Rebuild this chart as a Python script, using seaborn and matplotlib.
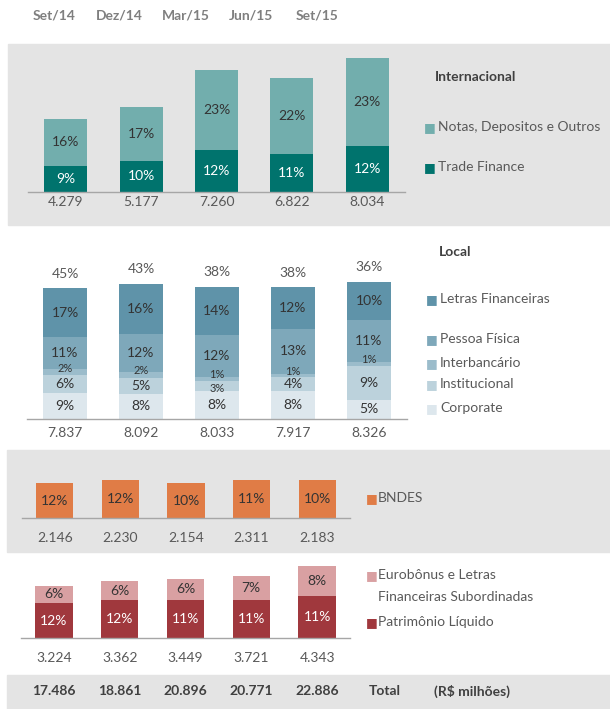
import matplotlib
matplotlib.use("Agg")
import matplotlib.pyplot as plt
import matplotlib.transforms as mtransforms
from matplotlib.patches import Rectangle
import seaborn as sns

# funding by period, R$ milhões
periods = ["Set/14", "Dez/14", "Mar/15", "Jun/15", "Set/15"]
total_funding = [17486, 18861, 20896, 20771, 22886]

intl_total = [4279, 5177, 7260, 6822, 8034]
trade_pct = [9, 10, 12, 11, 12]
notas_pct = [16, 17, 23, 22, 23]

local_total = [7837, 8092, 8033, 7917, 8326]
local_pct = [45, 43, 38, 38, 36]
corp_pct = [9, 8, 8, 8, 5]
instit_pct = [6, 5, 3, 4, 9]
interb_pct = [2, 2, 1, 1, 1]
pf_pct = [11, 12, 12, 13, 11]
letras_pct = [17, 16, 14, 12, 10]

bndes_total = [2146, 2230, 2154, 2311, 2183]
bndes_pct = [12, 12, 10, 11, 10]

sub_total = [3224, 3362, 3449, 3721, 4343]
pl_pct = [12, 12, 11, 11, 11]
euro_pct = [6, 6, 6, 7, 8]

W, H = 610, 709
SCALE = 60  # R$ milhões per pixel, same in every panel
PANEL_GREY = "#e4e4e4"
TXT = "#595959"
DARK = "#333333"

sns.set_style("white")
plt.rcParams["font.family"] = ["Lato", "DejaVu Sans"]

fig = plt.figure(figsize=(W / 100, H / 100), dpi=100)


def px_axes(left, top, right, bottom):
    return fig.add_axes([left / W, 1 - bottom / H, (right - left) / W, (bottom - top) / H])


def fig_rect(left, top, right, bottom, color):
    fig.patches.append(Rectangle((left / W, 1 - bottom / H), (right - left) / W, (bottom - top) / H,
                                 transform=fig.transFigure, color=color, zorder=-5))


def fig_txt(x, y, s, **kw):
    kw.setdefault("color", TXT)
    kw.setdefault("fontsize", 10)
    kw.setdefault("va", "center")
    fig.text(x / W, 1 - y / H, s, **kw)


def fmt(v):
    return f"{v:,}".replace(",", ".")


def stacked(ax, pcts, colors, txt_colors, totals, pad):
    segs = [[p / 100 * t for p, t in zip(pc, total_funding)] for pc in pcts]
    cums, run = [], [0] * len(periods)
    for s in segs:
        run = [a + b for a, b in zip(run, s)]
        cums.append(run)
    for k in reversed(range(len(segs))):
        sns.barplot(x=periods, y=cums[k], color=colors[k], saturation=1,
                    width=0.57, linewidth=0, ax=ax)
    for k, pc in enumerate(pcts):
        for i, p in enumerate(pc):
            mid = cums[k][i] - segs[k][i] / 2
            hpx = segs[k][i] / SCALE
            # thin slices: smaller text, nudged apart so labels don't pile up
            if hpx < 7:
                size, dy = 8, 3
            elif hpx < 12:
                size, dy = 8, -2
            else:
                size, dy = 10, 0
            ax.annotate(f"{p}%", (i, mid), xytext=(0, dy), textcoords="offset points",
                        ha="center", va="center", fontsize=size, color=txt_colors[k])
    pos = ax.get_position()
    ax.set_ylim(0, pos.height * H * SCALE)
    ax.set_xlim(-0.5, len(periods) - 0.5)
    ax.set_facecolor("none")
    ax.set_xlabel("")
    ax.set_ylabel("")
    ax.set_yticks([])
    ax.set_xticks(range(len(periods)))
    ax.set_xticklabels([fmt(v) for v in totals], color=TXT, fontsize=10)
    ax.tick_params(axis="x", length=0, pad=pad)
    for side in ["top", "left", "right"]:
        ax.spines[side].set_visible(False)
    ax.spines["bottom"].set_color("#a6a6a6")
    ax.spines["bottom"].set_linewidth(1)
    return cums


# grey bands
fig_rect(8, 44, 610, 225, PANEL_GREY)
fig_rect(7, 450, 610, 552, PANEL_GREY)
fig_rect(7, 675, 610, 709, PANEL_GREY)

# Internacional
c_notas, c_trade = "#72aead", "#00736d"
ax1 = px_axes(28, 45, 405, 192)
stacked(ax1, [trade_pct, notas_pct], [c_trade, c_notas], ["white", DARK], intl_total, 3)
fig_txt(435, 77, "Internacional", fontweight="bold", color="#404040")
for y, lab, c in [(127, "Notas, Depositos e Outros", c_notas), (167, "Trade Finance", c_trade)]:
    fig_txt(424, y, "■", color=c, fontsize=9)
    fig_txt(438, y, lab)

# Local
local_cols = ["#dde7ed", "#bcd2dc", "#9bbccb", "#7ea8ba", "#5f93a9"]
ax2 = px_axes(27, 232, 407, 419)
cums = stacked(ax2, [corp_pct, instit_pct, interb_pct, pf_pct, letras_pct], local_cols,
               [DARK] * 5, local_total, 6)
for i, p in enumerate(local_pct):
    ax2.annotate(f"{p}%", (i, cums[-1][i]), xytext=(0, 6), textcoords="offset points",
                 ha="center", va="bottom", fontsize=10, color=TXT)
fig_txt(439, 252, "Local", fontweight="bold", color="#404040")
local_labels = ["Corporate", "Institucional", "Interbancário", "Pessoa Física", "Letras Financeiras"]
for y, lab, c in zip([408, 384, 363, 339, 299], local_labels, local_cols):
    fig_txt(426, y, "■", color=c, fontsize=9)
    fig_txt(440, y, lab)

# BNDES
c_bndes = "#e07c46"
ax3 = px_axes(22, 452, 350, 518)
stacked(ax3, [bndes_pct], [c_bndes], [DARK], bndes_total, 10)
fig_txt(366, 498, "■", color=c_bndes, fontsize=9)
fig_txt(378, 498, "BNDES")

# Subordinadas + patrimonio
c_pl, c_euro = "#a0383d", "#d9a0a2"
ax4 = px_axes(21, 555, 350, 638)
stacked(ax4, [pl_pct, euro_pct], [c_pl, c_euro], ["white", DARK], sub_total, 10)
fig_txt(366, 575, "■", color=c_euro, fontsize=9)
fig_txt(378, 575, "Eurobônus e Letras")
fig_txt(378, 597, "Financeiras Subordinadas")
fig_txt(366, 622, "■", color=c_pl, fontsize=9)
fig_txt(378, 622, "Patrimônio Líquido")

# header dates and total row, aligned with bottom panel bars
blend = mtransforms.blended_transform_factory(ax4.transData, fig.transFigure)
for i, (p, t) in enumerate(zip(periods, total_funding)):
    fig.text(i, 1 - 16 / H, p, transform=blend, ha="center", va="center",
             fontsize=10, fontweight="bold", color="#7f7f7f")
    fig.text(i, 1 - 691 / H, fmt(t), transform=blend, ha="center", va="center",
             fontsize=10, fontweight="bold", color="#404040")
fig_txt(385, 691, "Total", ha="center", fontweight="bold", color="#404040")
fig_txt(472, 691, "(R$ milhões)", ha="center", fontweight="bold", color="#404040")

fig.savefig("out.png", dpi=100)
